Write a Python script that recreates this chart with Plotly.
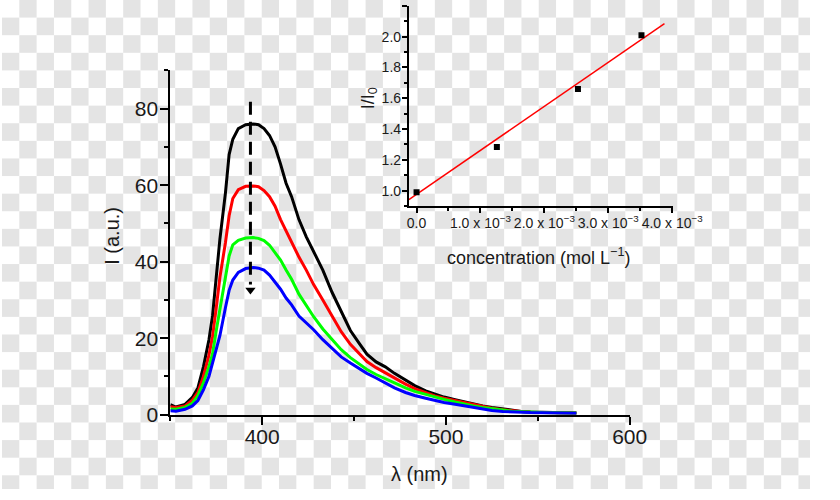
import plotly.graph_objects as go

# ---------------- data ----------------
wavelength = [350, 353, 358, 362, 365, 368, 371, 373, 375, 377, 380, 382, 384, 387, 391,
              395, 398, 401, 404, 407, 410, 413, 416, 420, 424, 428, 433, 438, 443, 448,
              453, 457, 462, 467, 472, 478, 483, 489, 494, 499, 505, 510, 515, 520, 525,
              531, 536, 541, 546, 552, 560, 571]

intensity_black = [2.6, 2.0, 2.7, 4.5, 7.0, 12.5, 19.5, 26, 36, 46, 58, 68, 72, 74.8, 75.8,
                   76, 75.8, 74.8, 73, 70, 65.5, 60.5, 57, 51, 46.5, 42.5, 37.8, 32, 27, 22,
                   18.5, 15.8, 13.8, 12.5, 10.8, 9.1, 7.6, 6.2, 5.3, 4.6, 3.9, 3.3, 2.8, 2.3, 1.9,
                   1.5, 1.1, 0.85, 0.7, 0.6, 0.5, 0.45]
intensity_red = [2.1, 1.9, 2.3, 3.8, 5.8, 10, 15.5, 20.5, 28, 36, 45, 52, 56.5, 58.8, 59.7,
                 59.8, 59.6, 58.6, 57, 54.5, 51, 48, 45, 41.2, 37.8, 34, 30, 25.9, 21.7, 18.4,
                 15.8, 13.9, 12.3, 10.9, 9.5, 8.0, 6.8, 5.7, 4.9, 4.3, 3.7, 3.2, 2.6, 2.1, 1.7,
                 1.3, 1.0, 0.8, 0.65, 0.55, 0.5, 0.45]
intensity_green = [1.5, 1.4, 1.9, 3.0, 5.0, 8.3, 12.5, 16, 22, 27.5, 36, 41.5, 44.4, 45.6, 46.2,
                   46.3, 46.1, 45.5, 44.3, 42.5, 40.4, 37.8, 35.4, 31.5, 28.4, 25.6, 22.4, 19.8, 17, 14.9,
                   13.2, 11.8, 10.5, 9.5, 8.3, 7.0, 6.1, 5.3, 4.6, 4.0, 3.3, 2.7, 2.3, 1.9, 1.5,
                   1.2, 0.9, 0.75, 0.6, 0.55, 0.5, 0.45]
intensity_blue = [1.0, 0.9, 1.4, 2.3, 3.7, 6.5, 10, 13.5, 17, 20.7, 28, 32.5, 35.2, 37.2, 38.2,
                  38.5, 38.3, 37.8, 36.5, 34.8, 32.8, 30.5, 28.7, 25.8, 24.1, 22.2, 19.6, 17.3, 15.1, 13.5,
                  12, 10.8, 9.6, 8.3, 7.0, 5.8, 5.0, 4.3, 3.7, 3.2, 2.7, 2.3, 1.85, 1.45, 1.1,
                  0.85, 0.7, 0.6, 0.55, 0.5, 0.45, 0.4]

arrow_x = [393.6, 393.6]
arrow_y = [81.8, 34.0]
arrow_tip_y = [32.6]

concentration = [0.0, 1.257e-3, 2.526e-3, 3.52e-3]
ratio = [0.99, 1.283, 1.66, 2.01]
fit_x = [-0.12e-3, 3.88e-3]
fit_y = [0.942, 2.084]

main_xticks = [400, 500, 600]
inset_xticks = [0.0, 1e-3, 2e-3, 3e-3, 4e-3]
inset_xticktext = ["0.0", "1.0 x 10<sup>−3</sup>", "2.0 x 10<sup>−3</sup>",
                   "3.0 x 10<sup>−3</sup>", "4.0 x 10<sup>−3</sup>"]
inset_xminor = [0.5e-3, 1.5e-3, 2.5e-3, 3.5e-3]

# ---------------- checkerboard background (transparency pattern) ----------------
W, H, SQ = 840, 500, 18
checker_shapes = []
for r in range(H // SQ + 1):
    for c in range(W // SQ + 1):
        if (r + c) % 2 == 1:
            checker_shapes.append(dict(
                type="rect", xref="paper", yref="paper",
                x0=c * SQ / W, x1=min((c + 1) * SQ, W) / W,
                y0=1 - min((r + 1) * SQ, H) / H, y1=1 - r * SQ / H,
                fillcolor="#e4e4e4", line=dict(width=0), layer="below"))

FONT = "Liberation Sans, Arial, Helvetica, sans-serif"
TXT = "#1a1a1a"

fig = go.Figure()

for ys, col in [(intensity_black, "#000000"), (intensity_red, "#ff0000"),
                (intensity_green, "#00ff00"), (intensity_blue, "#0000ff")]:
    fig.add_trace(go.Scatter(x=wavelength, y=ys, mode="lines",
                             line=dict(color=col, width=3), xaxis="x", yaxis="y",
                             showlegend=False, hoverinfo="skip"))

fig.add_trace(go.Scatter(x=arrow_x, y=arrow_y, mode="lines",
                         line=dict(color="#000000", width=3, dash="13px,7px"),
                         xaxis="x", yaxis="y", showlegend=False, hoverinfo="skip"))
fig.add_trace(go.Scatter(x=arrow_x[:1], y=arrow_tip_y, mode="markers",
                         marker=dict(symbol="triangle-down", size=9, color="#000000"),
                         xaxis="x", yaxis="y", showlegend=False, hoverinfo="skip"))

fig.add_trace(go.Scatter(x=fit_x, y=fit_y, mode="lines",
                         line=dict(color="#ff0000", width=1.5), xaxis="x2", yaxis="y2",
                         showlegend=False, hoverinfo="skip"))
fig.add_trace(go.Scatter(x=concentration, y=ratio, mode="markers",
                         marker=dict(symbol="square", size=6, color="#000000"),
                         xaxis="x2", yaxis="y2", showlegend=False, hoverinfo="skip"))

axis_common = dict(showline=True, linecolor="#000000", showgrid=False, zeroline=False,
                   ticks="outside", tickcolor="#000000", mirror=False)

fig.update_layout(
    width=W, height=H,
    margin=dict(l=0, r=0, t=0, b=0),
    paper_bgcolor="#ffffff", plot_bgcolor="rgba(0,0,0,0)",
    font=dict(family=FONT, color=TXT),
    shapes=checker_shapes,
    xaxis=dict(axis_common, domain=[175/840, 652.5/840], range=[350, 600],
               tickvals=main_xticks, linewidth=2, tickwidth=2, ticklen=8,
               tickfont=dict(size=21, color=TXT), ticklabelstandoff=-6,
               minor=dict(dtick=50, tick0=350, ticklen=4, tickwidth=2, ticks="outside",
                          tickcolor="#000000", showgrid=False),
               anchor="y"),
    yaxis=dict(axis_common, domain=[1-424/500, 1-72/500], range=[0, 90],
               tick0=0, dtick=20, linewidth=2, tickwidth=2, ticklen=8,
               tickfont=dict(size=21, color=TXT), ticklabelstandoff=-2,
               minor=dict(dtick=10, tick0=0, ticklen=4, tickwidth=2, ticks="outside",
                          tickcolor="#000000", showgrid=False),
               anchor="x"),
    xaxis2=dict(axis_common, domain=[423/840, 698/840], range=[-0.12e-3, 4.02e-3],
                tickvals=inset_xticks, ticktext=inset_xticktext, linewidth=2, tickwidth=1.5,
                ticklen=5, tickfont=dict(size=14, color=TXT), ticklabelstandoff=-2,
                minor=dict(tickvals=inset_xminor, ticklen=3, tickwidth=1.5, ticks="outside",
                           tickcolor="#000000", showgrid=False),
                anchor="y2"),
    yaxis2=dict(axis_common, domain=[1-210.7/500, 1-6/500], range=[0.9, 2.2],
                tick0=1.0, dtick=0.2, tickformat=".1f", linewidth=2, tickwidth=1.5,
                ticklen=5, tickfont=dict(size=14, color=TXT), ticklabelstandoff=-2,
                minor=dict(dtick=0.1, tick0=0.9, ticklen=3, tickwidth=1.5, ticks="outside",
                           tickcolor="#000000", showgrid=False),
                anchor="x2"),
    annotations=[
        dict(text="I (a.u.)", xref="paper", yref="paper", x=115/840, y=1-241.5/500,
             textangle=-90, showarrow=False, font=dict(size=20, color=TXT),
             xanchor="center", yanchor="middle"),
        dict(text="λ (nm)", xref="paper", yref="paper", x=434/840, y=1-485/500,
             showarrow=False, font=dict(size=20, color=TXT),
             xanchor="center", yanchor="middle"),
        dict(text="I/I<sub>0</sub>", xref="paper", yref="paper", x=382/840, y=1-100/500,
             textangle=-90, showarrow=False, font=dict(size=18, color=TXT),
             xanchor="center", yanchor="middle"),
        dict(text="concentration (mol L<sup>−1</sup>)", xref="paper", yref="paper",
             x=557.5/840, y=1-262/500, showarrow=False, font=dict(size=18, color=TXT),
             xanchor="center", yanchor="middle"),
    ],
)

fig.write_html("out.html")
